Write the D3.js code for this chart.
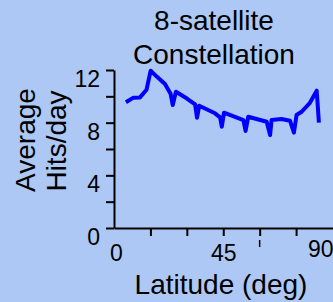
<!DOCTYPE html>
<html>
<head>
<meta charset="utf-8">
<script src="https://cdn.jsdelivr.net/npm/d3@7"></script>
<style>
  body { margin: 0; background: #adc8f5; }
  svg { display: block; font-family: "Liberation Sans", Arial, sans-serif; }
</style>
</head>
<body>
<div id="chart"></div>
<script>
// latitude (deg) and average hits per day
let latitude = [4.9, 8, 10.7, 13.4, 15.1, 17.6, 21, 23.3, 24.2, 25.5, 29.9, 33.4, 34.2, 35.1,
                41.6, 43.7, 44.4, 45.3, 53.3, 54.2, 55.3, 62.9, 64.3, 64.9, 69, 72.5, 74.1,
                75.2, 77.3, 80.7, 83.5, 84.4];
let hits = [9.55, 9.9, 9.92, 10.5, 11.95, 11.5, 10.93, 10.2, 9.34, 10.35, 9.85, 9.39, 8.37, 9.29,
            8.71, 8.4, 7.69, 8.76, 8.2, 7.37, 8.45, 8.07, 7.06, 8.2, 8.28, 8.15, 7.24,
            8.58, 8.83, 9.51, 10.43, 8.0];
let xTicks = [0, 15, 30, 45, 60, 75, 90];
let xLabels = [0, 45, 90];
let yTicks = [0, 2, 4, 6, 8, 10, 12];
let yLabels = [0, 4, 8, 12];

let data = latitude.map((d, i) => ({lat: d, hits: hits[i]}));

let width = 333, height = 302;

let svg = d3.select("#chart")
            .append("svg")
            .attr("width", width)
            .attr("height", height)

let xscale = d3.scaleLinear()
               .domain([0, 90])
               .range([114, 332.5])

let yscale = d3.scaleLinear()
               .domain([0, 12])
               .range([228, 70])

// y axis
let yaxis = svg.append("g")
               .attr("transform", "translate(114,0)")
               .call(d3.axisLeft(yscale)
                       .tickValues(yTicks)
                       .tickSize(8)
                       .tickSizeOuter(0)
                       .tickPadding(6)
                       .tickFormat(d => yLabels.includes(d) ? d : ""))
yaxis.selectAll("text").attr("dy", "0.71em").attr("font-size", 23).attr("fill", "#000")

// x axis
let xaxis = svg.append("g")
               .attr("transform", "translate(0,228)")
               .call(d3.axisBottom(xscale)
                       .tickValues(xTicks)
                       .tickSize(8)
                       .tickSizeOuter(0)
                       .tickPadding(9)
                       .tickFormat(d => xLabels.includes(d) ? d : ""))
xaxis.selectAll(".tick")
     .filter(d => d == 0 || d == 90)
     .select("line").remove()
xaxis.selectAll("text").attr("font-size", 23).attr("fill", "#000")
xaxis.selectAll(".tick").filter(d => d == 0).select("text").attr("x", 2)
xaxis.selectAll(".tick").filter(d => d == 90).select("text")
     .attr("text-anchor", "end").attr("x", 0.5).attr("y", 13)

svg.selectAll(".domain, .tick line")
   .attr("stroke", "#000")
   .attr("stroke-width", 2)

// small stray mark under the 60 deg tick
svg.append("line")
   .attr("x1", xscale(60)).attr("x2", xscale(60))
   .attr("y1", 240).attr("y2", 247)
   .attr("stroke", "#000")
   .attr("stroke-width", 1.5)

// titles and axis labels
svg.append("text")
   .text("8-satellite")
   .attr("x", 214).attr("y", 30)
   .attr("text-anchor", "middle")
   .attr("font-size", 28)

svg.append("text")
   .text("Constellation")
   .attr("x", 214).attr("y", 64)
   .attr("text-anchor", "middle")
   .attr("font-size", 28)

svg.append("text")
   .text("Latitude (deg)")
   .attr("x", 221).attr("y", 294)
   .attr("text-anchor", "middle")
   .attr("font-size", 28)

svg.append("text")
   .text("Average")
   .attr("transform", "translate(35,140) rotate(-90)")
   .attr("text-anchor", "middle")
   .attr("font-size", 28)

svg.append("text")
   .text("Hits/day")
   .attr("transform", "translate(66,141) rotate(-90)")
   .attr("text-anchor", "middle")
   .attr("font-size", 28)

// data line
let line = d3.line()
             .x(d => xscale(d.lat))
             .y(d => yscale(d.hits))

svg.append("path")
   .datum(data)
   .attr("d", line)
   .attr("fill", "none")
   .attr("stroke", "#0000ff")
   .attr("stroke-width", 4)
   .attr("stroke-linejoin", "round")
</script>
</body>
</html>
